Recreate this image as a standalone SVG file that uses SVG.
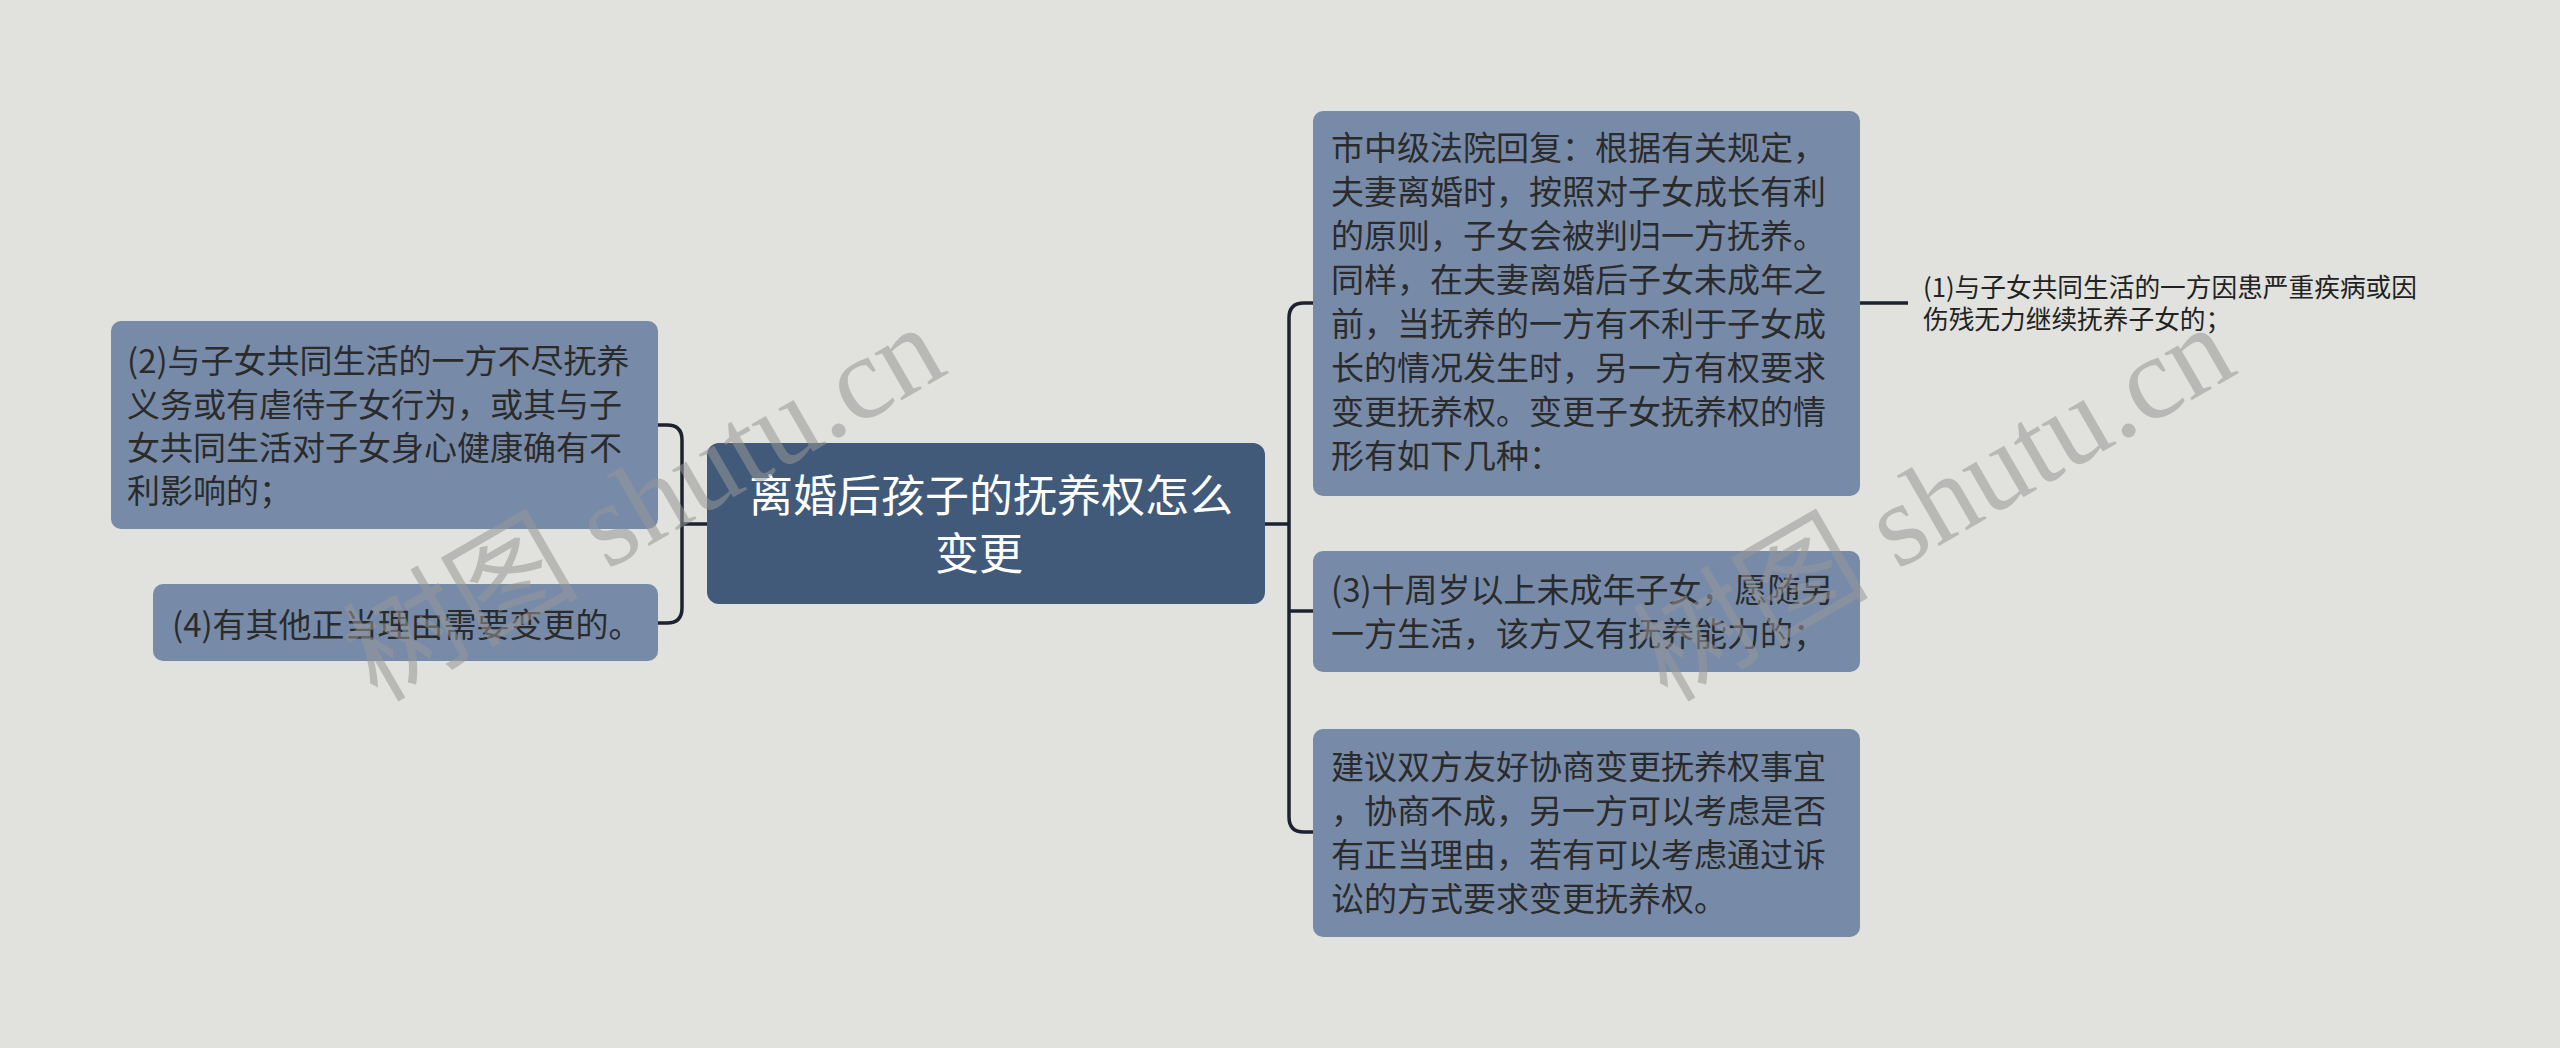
<svg xmlns="http://www.w3.org/2000/svg" width="2560" height="1048" viewBox="0 0 2560 1048">
<defs>
<style>
.bg{fill:#e1e2dd}
.node{fill:#778ba9}
.root{fill:#415a7a}
.t{font-family:"Noto Sans CJK SC","Noto Sans",sans-serif;font-size:33px;fill:#2b2b2b}
.rt{font-family:"Noto Sans CJK SC","Noto Sans",sans-serif;font-size:44px;fill:#ffffff}
.ct{font-family:"Noto Sans CJK SC","Noto Sans",sans-serif;font-size:25.7px;fill:#222222}
.conn{fill:none;stroke:#1c2230;stroke-width:3.5;stroke-linecap:butt;stroke-linejoin:round}
.wm{font-family:"Liberation Serif","Noto Sans CJK SC",serif;font-size:118px;fill:#989898;fill-opacity:0.55}
</style>
</defs>
<rect class="bg" x="0" y="0" width="2560" height="1048"/>
<g id="connectors">
<path class="conn" d="M707,524 H682"/>
<path class="conn" d="M658,425 H667 Q682,425 682,440 V608 Q682,623 667,623 H658"/>
<path class="conn" d="M1265,524 H1289"/>
<path class="conn" d="M1313,303 H1304 Q1289,303 1289,318 V817 Q1289,832 1304,832 H1313"/>
<path class="conn" d="M1289,611 H1313"/>
<path class="conn" d="M1860,303 H1908"/>
</g>
<g id="root">
<rect class="root" x="707" y="443" width="558" height="161" rx="12"/>
<text class="rt" x="749" y="512">离婚后孩子的抚养权怎么</text>
<text class="rt" x="935" y="570">变更</text>
</g>
<g id="left1">
<rect class="node" x="111" y="321" width="547" height="208" rx="10"/>
<text class="t" x="127" y="373">(2)与子女共同生活的一方不尽抚养</text>
<text class="t" x="127" y="417">义务或有虐待子女行为，或其与子</text>
<text class="t" x="127" y="460">女共同生活对子女身心健康确有不</text>
<text class="t" x="127" y="503">利影响的；</text>
</g>
<g id="left2">
<rect class="node" x="153" y="584" width="505" height="77" rx="10"/>
<text class="t" x="172" y="637">(4)有其他正当理由需要变更的。</text>
</g>
<g id="right1">
<rect class="node" x="1313" y="111" width="547" height="385" rx="10"/>
<text class="t" x="1331" y="160">市中级法院回复：根据有关规定，</text>
<text class="t" x="1331" y="204">夫妻离婚时，按照对子女成长有利</text>
<text class="t" x="1331" y="248">的原则，子女会被判归一方抚养。</text>
<text class="t" x="1331" y="292">同样，在夫妻离婚后子女未成年之</text>
<text class="t" x="1331" y="336">前，当抚养的一方有不利于子女成</text>
<text class="t" x="1331" y="380">长的情况发生时，另一方有权要求</text>
<text class="t" x="1331" y="424">变更抚养权。变更子女抚养权的情</text>
<text class="t" x="1331" y="468">形有如下几种：</text>
</g>
<g id="child1">
<text class="ct" x="1923" y="297">(1)与子女共同生活的一方因患严重疾病或因</text>
<text class="ct" x="1923" y="329">伤残无力继续抚养子女的；</text>
</g>
<g id="right2">
<rect class="node" x="1313" y="551" width="547" height="121" rx="10"/>
<text class="t" x="1331" y="602">(3)十周岁以上未成年子女，愿随另</text>
<text class="t" x="1331" y="646">一方生活，该方又有抚养能力的；</text>
</g>
<g id="right3">
<rect class="node" x="1313" y="729" width="547" height="208" rx="10"/>
<text class="t" x="1331" y="779">建议双方友好协商变更抚养权事宜</text>
<text class="t" x="1331" y="823">，协商不成，另一方可以考虑是否</text>
<text class="t" x="1331" y="867">有正当理由，若有可以考虑通过诉</text>
<text class="t" x="1331" y="911">讼的方式要求变更抚养权。</text>
</g>
<g id="watermarks">
<text class="wm" transform="translate(377,703) rotate(-30)">树图 shutu.cn</text>
<text class="wm" transform="translate(1667,703) rotate(-30)">树图 shutu.cn</text>
</g>
</svg>
